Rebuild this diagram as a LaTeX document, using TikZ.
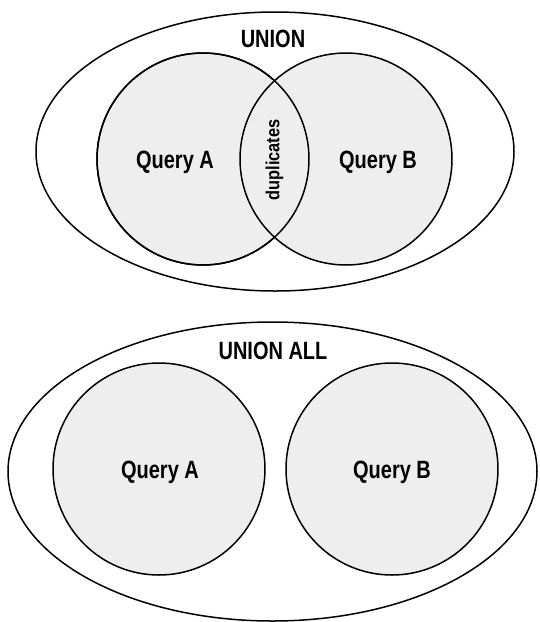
\documentclass[tikz,border=0pt]{standalone}
\usepackage{fontspec}
\usetikzlibrary{shapes.geometric}
% condensed bold sans for all labels
\newfontfamily\lblfont[FakeStretch=0.80]{Liberation Sans}
\newfontfamily\dupfont[FakeStretch=0.86]{Liberation Sans}
\definecolor{setfill}{RGB}{237,238,237}

\tikzset{
  ring/.style={draw=black, line width=1.5pt},
  outer/.style={ring, ellipse, fill=white, inner sep=0pt},
  setdisk/.style={ring, circle, fill=setfill, inner sep=0pt, minimum size=212pt},
  title/.style={font=\lblfont\bfseries\fontsize{25}{30}\selectfont, anchor=base, inner sep=0pt},
  setname/.style={font=\lblfont\bfseries\fontsize{25}{30}\selectfont, anchor=base, inner sep=0pt},
  overlap/.style={font=\dupfont\bfseries\fontsize{19}{22}\selectfont, rotate=90, inner sep=0pt}
}

\begin{document}
\begin{tikzpicture}[x=1pt, y=-1pt]
  \useasboundingbox (0,0) rectangle (540,622);

  % ---- UNION: overlapping sets ----
  \node[outer, minimum width=478pt, minimum height=279pt] (union) at (275,151.5) {};
  \node[setdisk] (ua) at (203,159) {};
  \node[setdisk] (ub) at (346,159) {};
  % restore the left outline on top of the right fill
  \draw[ring] (ua.center) circle[radius=106pt];
  \node[title] (uniontitle) at (273,47) {UNION};
  \node[setname] (ualabel) at (175,168) {Query A};
  \node[setname] (ublabel) at (378,168) {Query B};
  \node[overlap] (dup) at (274.5,160) {duplicates};

  % ---- UNION ALL: separate sets ----
  \node[outer, minimum width=529pt, minimum height=299pt] (unionall) at (272.5,471.5) {};
  \node[setdisk] (aa) at (159,469) {};
  \node[setdisk] (ab) at (392,469) {};
  \node[title] (unionalltitle) at (273,359) {UNION ALL};
  \node[setname] (aalabel) at (160,478) {Query A};
  \node[setname] (ablabel) at (392,478) {Query B};
\end{tikzpicture}
\end{document}
